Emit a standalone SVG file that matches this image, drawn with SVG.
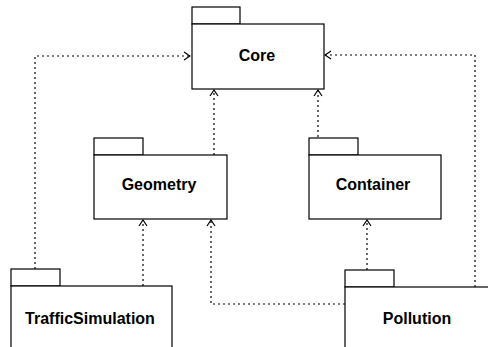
<svg xmlns="http://www.w3.org/2000/svg" width="488" height="347" viewBox="0 0 488 347">
<style>
.box{fill:#fff;stroke:#000;stroke-width:1.2}
.lbl{font-family:"Liberation Sans",Arial,sans-serif;font-weight:bold;font-size:16px;text-anchor:middle;fill:#000}
.dep{fill:none;stroke:#000;stroke-width:1.2;stroke-dasharray:2 3}
</style>
<defs>
<marker id="open" viewBox="0 0 8 10" refX="7" refY="5" markerWidth="8" markerHeight="10" markerUnits="userSpaceOnUse" orient="auto">
<path d="M1,1 L7,5 L1,9" fill="none" stroke="#000" stroke-width="1.2"/>
</marker>
</defs>
<rect width="488" height="347" fill="#fff"/>
<g id="connectors">
<path class="dep" d="M35,269 V56 H190" marker-end="url(#open)"/>
<path class="dep" d="M475,287 V55 H325" marker-end="url(#open)"/>
<path class="dep" d="M214,155 V90" marker-end="url(#open)"/>
<path class="dep" d="M318,137 V90" marker-end="url(#open)"/>
<path class="dep" d="M143,286 V220" marker-end="url(#open)"/>
<path class="dep" d="M367,270 V220" marker-end="url(#open)"/>
<path class="dep" d="M345,304 H211 V220" marker-end="url(#open)"/>
</g>
<g id="core">
<rect class="box" x="192" y="7" width="48" height="17"/>
<rect class="box" x="192" y="24" width="132" height="65"/>
<text class="lbl" x="257" y="61">Core</text>
</g>
<g id="geometry">
<rect class="box" x="94" y="138" width="49" height="17"/>
<rect class="box" x="94" y="155" width="133" height="64"/>
<text class="lbl" x="159" y="190">Geometry</text>
</g>
<g id="container">
<rect class="box" x="309" y="138" width="49" height="17"/>
<rect class="box" x="309" y="155" width="132" height="64"/>
<text class="lbl" x="373" y="190">Container</text>
</g>
<g id="trafficsimulation">
<rect class="box" x="11" y="269" width="49" height="17"/>
<rect class="box" x="11" y="286" width="161" height="64"/>
<text class="lbl" x="90" y="324">TrafficSimulation</text>
</g>
<g id="pollution">
<rect class="box" x="345" y="270" width="49" height="17"/>
<rect class="box" x="345" y="287" width="146" height="64"/>
<text class="lbl" x="417" y="324">Pollution</text>
</g>
</svg>
